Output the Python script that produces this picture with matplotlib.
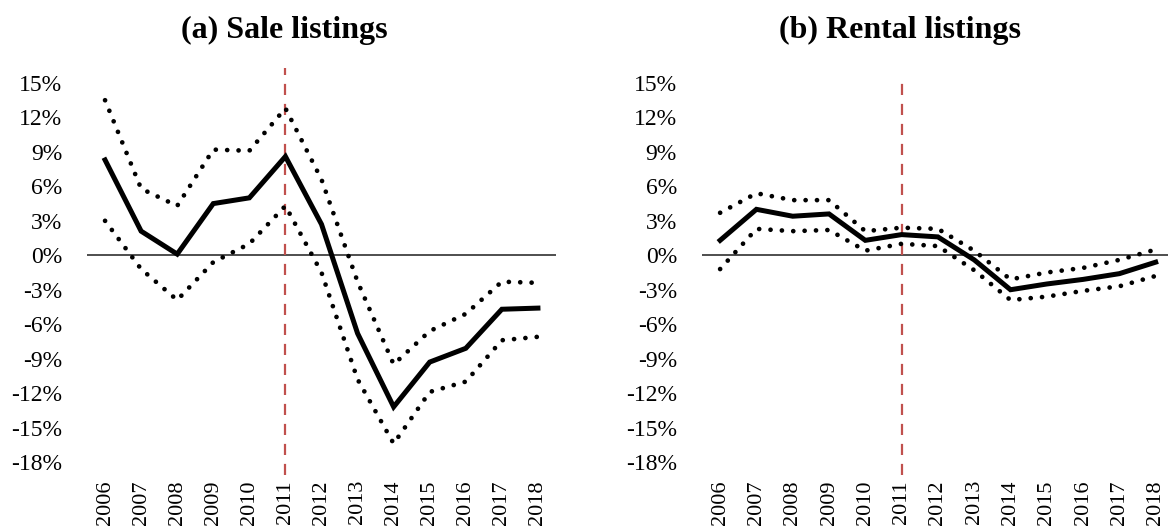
import matplotlib.pyplot as plt

years = list(range(2006, 2019))
event_year = 2011

sale_est = [8.3, 2.1, 0.1, 4.5, 5.0, 8.6, 2.7, -6.8, -13.2, -9.3, -8.1, -4.7, -4.6]
sale_upper = [13.5, 5.8, 4.3, 9.2, 9.1, 12.8, 6.6, -2.3, -9.5, -6.6, -5.1, -2.3, -2.4]
sale_lower = [3.0, -1.2, -3.9, -0.6, 1.0, 4.3, -1.5, -10.8, -16.4, -11.9, -11.0, -7.4, -7.1]

rent_est = [1.3, 4.0, 3.4, 3.6, 1.3, 1.8, 1.6, -0.4, -3.0, -2.5, -2.1, -1.6, -0.6]
rent_upper = [3.7, 5.4, 4.8, 4.8, 2.1, 2.4, 2.3, 0.4, -2.1, -1.5, -1.1, -0.4, 0.5]
rent_lower = [-1.2, 2.3, 2.1, 2.2, 0.4, 1.0, 0.8, -1.3, -3.9, -3.6, -3.1, -2.7, -1.8]

yticks = list(range(-18, 16, 3))
ytick_labels = [f"{v}%" for v in yticks]

plt.rcParams['font.family'] = ['Liberation Serif', 'DejaVu Serif']

fig = plt.figure(figsize=(11.68, 5.3), dpi=100)
ax1 = fig.add_axes([0.0745, 0.1283, 0.4015, 0.7151])
ax2 = fig.add_axes([0.601, 0.1283, 0.404, 0.7151])

panels = [
    (ax1, sale_est, sale_upper, sale_lower, '(a) Sale listings', 284, 1.04),
    (ax2, rent_est, rent_upper, rent_lower, '(b) Rental listings', 900, 1.02),
]

for ax, est, up, lo, title, tx, vtop in panels:
    ax.axhline(0, color='#404040', lw=1.3, zorder=1)
    ax.axvline(event_year, ymin=-0.035, ymax=vtop, color='#c0504d', lw=1.6,
               dashes=(5, 4), clip_on=False, zorder=2)
    for band in (up, lo):
        ax.plot(years, band, color='black', lw=3.4, linestyle=(0, (0.01, 2.4)),
                dash_capstyle='round', zorder=3)
    ax.plot(years, est, color='black', lw=3.6, solid_joinstyle='miter', zorder=4)

    ax.set_xlim(2005.5, 2018.5)
    ax.set_ylim(-18, 15)
    ax.set_yticks(yticks)
    ax.set_yticklabels(ytick_labels, fontsize=17)
    ax.set_xticks(years)
    ax.set_xticklabels([str(y) for y in years], rotation=90, fontsize=16)
    ax.tick_params(axis='both', length=0)
    ax.tick_params(axis='x', pad=13)
    ax.tick_params(axis='y', pad=18)
    for s in ax.spines.values():
        s.set_visible(False)
    fig.text(tx / 1168, 1 - 30 / 530, title, ha='center', va='center',
             fontsize=23, fontweight='bold')

fig.savefig('out.png', dpi=100)
